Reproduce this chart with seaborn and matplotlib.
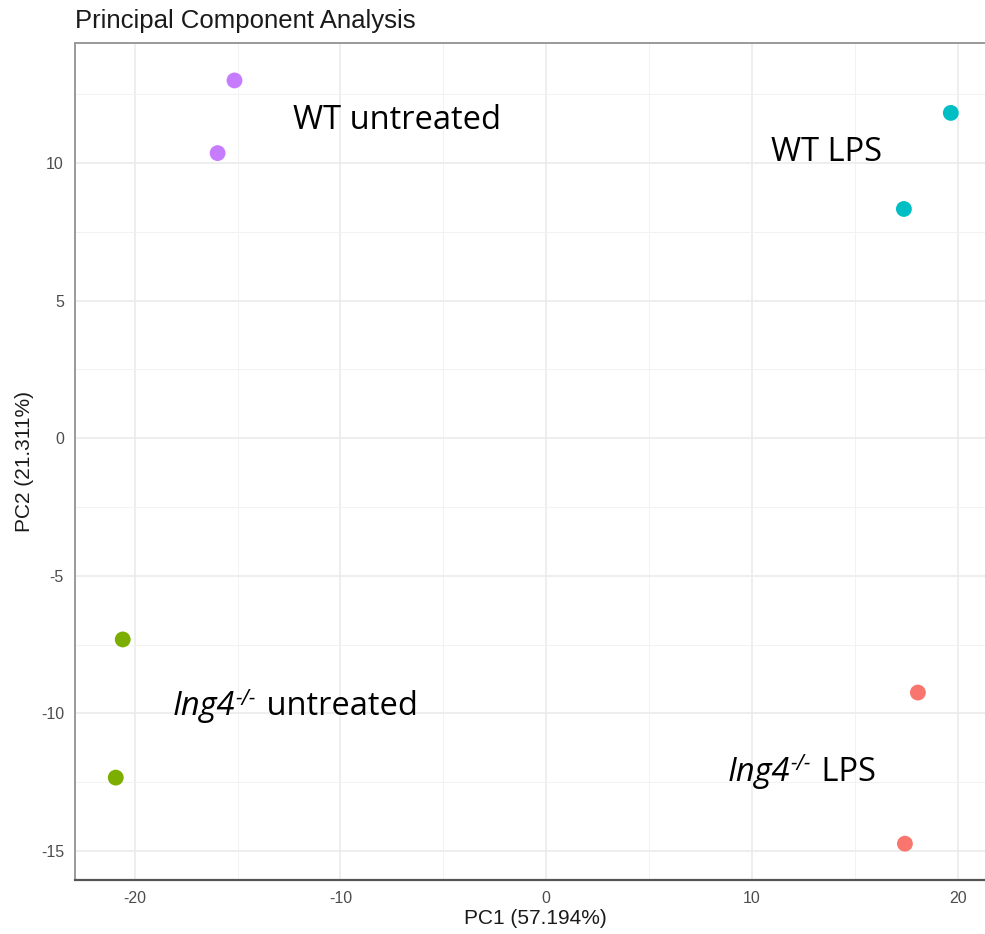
import matplotlib
matplotlib.use("Agg")
import matplotlib.pyplot as plt
import seaborn as sns
import pandas as pd
from matplotlib.ticker import MultipleLocator

# ---- data ----
groups = ["WT untreated", "WT untreated", "WT LPS", "WT LPS",
          "Ing4 untreated", "Ing4 untreated", "Ing4 LPS", "Ing4 LPS"]
pc1 = [-15.15, -15.97, 19.66, 17.38, -20.58, -20.92, 18.06, 17.43]
pc2 = [13.00, 10.36, 11.82, 8.33, -7.31, -12.33, -9.24, -14.73]
group_colors = {"Ing4 LPS": "#F8766D", "Ing4 untreated": "#7CAE00",
                "WT LPS": "#00BFC4", "WT untreated": "#C77CFF"}

# annotation labels: (italic gene part, superscript, plain rest)
label_gene = ["", "", "Ing4", "Ing4"]
label_sup = ["", "", "-/-", "-/-"]
label_rest = ["WT untreated", "WT LPS", " untreated", " LPS"]
label_x = [-12.33, 10.92, -18.16, 8.79]
label_y = [11.24, 10.07, -10.07, -12.44]

x_ticks = [-20, -10, 0, 10, 20]
y_ticks = [-15, -10, -5, 0, 5, 10]

df = pd.DataFrame({"PC1": pc1, "PC2": pc2, "group": groups})

sns.set_theme(style="white")
plt.rcParams["font.family"] = ["Liberation Sans", "DejaVu Sans"]
plt.rcParams["axes.unicode_minus"] = False

fig = plt.figure(figsize=(9.85, 9.34), dpi=100)
ax = fig.add_axes([75 / 985, 1 - 880 / 934, 1 - 75 / 985 + 0.01, (880 - 43) / 934])

sns.scatterplot(data=df, x="PC1", y="PC2", hue="group", palette=group_colors,
                s=130, linewidth=0, legend=False, ax=ax, zorder=3)

ax.set_xlim(-22.9, 21.8)
ax.set_ylim(-16.05, 14.36)
ax.set_xticks(x_ticks)
ax.set_yticks(y_ticks)
ax.xaxis.set_minor_locator(MultipleLocator(5))
ax.yaxis.set_minor_locator(MultipleLocator(2.5))
ax.grid(True, which="major", color="#EBEBEB", linewidth=1.2)
ax.grid(True, which="minor", color="#F2F2F2", linewidth=0.7)
ax.set_axisbelow(True)

for side in ["top", "left"]:
    ax.spines[side].set_color("#9A9A9A")
    ax.spines[side].set_linewidth(1.4)
ax.spines["bottom"].set_color("#555555")
ax.spines["bottom"].set_linewidth(1.6)
ax.spines["right"].set_visible(False)

ax.tick_params(axis="both", which="major", length=5, width=1.1, color="#666666",
               labelsize=11.5, labelcolor="#4D4D4D", pad=3)
ax.tick_params(which="minor", length=0)

ax.set_xlabel("PC1 (57.194%)", fontsize=15, color="#1A1A1A", labelpad=2)
ax.set_ylabel("PC2 (21.311%)", fontsize=15, color="#1A1A1A", labelpad=5)
fig.text(75 / 985, 1 - 21 / 934, "Principal Component Analysis", fontsize=18.5,
         color="#1A1A1A", ha="left", va="center")

fs = 23.5
for gene, sup, rest, lx, ly in zip(label_gene, label_sup, label_rest, label_x, label_y):
    if gene:
        t1 = ax.text(lx, ly, gene, fontsize=fs, family="Open Sans", style="italic",
                     ha="left", va="baseline", color="black", zorder=4)
        t2 = ax.annotate(sup, xy=(1, ly), xycoords=(t1, ax.transData), xytext=(0.5, 7.5),
                         textcoords="offset points", fontsize=15,
                         family="Open Sans", style="italic", ha="left", va="baseline",
                         color="black", zorder=4)
        ax.annotate(rest, xy=(1, ly), xycoords=(t2, ax.transData), xytext=(1.5, 0),
                    textcoords="offset points", fontsize=fs,
                    family="Open Sans", ha="left", va="baseline", color="black", zorder=4)
    else:
        ax.text(lx, ly, rest, fontsize=fs, family="Open Sans", ha="left",
                va="baseline", color="black", zorder=4)

fig.savefig("out.png", dpi=100)
